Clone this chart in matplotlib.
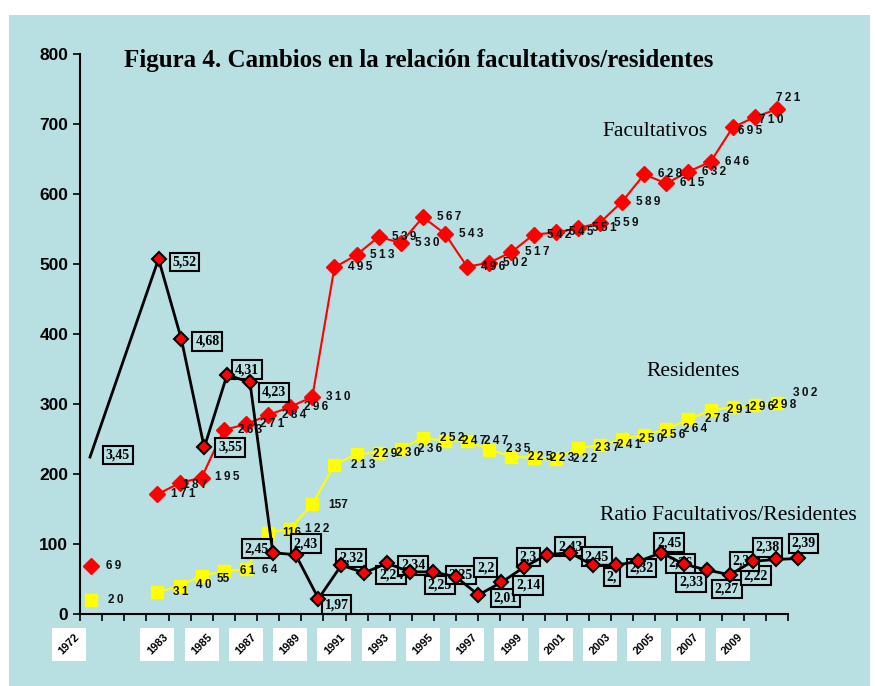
import numpy as np
import matplotlib.pyplot as plt
from matplotlib.patches import Rectangle

plt.rcParams['font.family'] = ['Liberation Sans', 'DejaVu Sans']

# categories (two empty slots between 1972 and 1983)
years = ['1972', '', ''] + [str(y) for y in range(1983, 2012)]
facultativos = [69, np.nan, np.nan, 171, 187, 195, 263, 271, 284, 296, 310, 495, 513, 539, 530, 567,
                543, 496, 502, 517, 542, 545, 551, 559, 589, 628, 615, 632, 646, 695, 710, 721]
residentes = [20, np.nan, np.nan, 31, 40, 55, 61, 64, 116, 122, 157, 213, 229, 230, 236, 252,
              247, 247, 235, 225, 223, 222, 237, 241, 250, 256, 264, 278, 291, 296, 298, 302]
ratio = [3.45, np.nan, np.nan, 5.52, 4.68, 3.55, 4.31, 4.23, 2.45, 2.43, 1.97, 2.32, 2.24, 2.34, 2.25, 2.25,
         2.2, 2.01, 2.14, 2.3, 2.43, 2.45, 2.32, 2.32, 2.36, 2.45, 2.33, 2.27, 2.22, 2.36, 2.38, 2.39]
ratio_text = ['3,45', '', '', '5,52', '4,68', '3,55', '4,31', '4,23', '2,45', '2,43', '1,97', '2,32',
              '2,24', '2,34', '2,25', '2,25', '2,2', '2,01', '2,14', '2,3', '2,43', '2,45', '2,', '2,32',
              '2,36', '2,45', '2,33', '2,27', '2,22', '2,36', '2,38', '2,39']
shown_years = [0] + list(range(3, 30, 2))

# label offsets in pixels (dx, dy downwards)
fac_off = {0: (23, 0), 4: (16, 2), 29: (17, 3), 30: (16, 3), 31: (11, -11)}
res_off = {0: (25, 0), 3: (23, 0), 4: (24, -1), 5: (22, 3), 6: (24, 0), 7: (24, 1), 8: (24, 0),
           9: (27, 0), 10: (26, 1), 31: (28, -10)}
ratio_off = {0: (28, -2), 3: (26, 3), 4: (26, 2), 5: (26, 0), 6: (20, -5), 7: (24, 10), 8: (-16, -4),
             9: (10, -11), 10: (18, 6), 11: (10, -7), 12: (27, 2), 13: (26, 2), 14: (30, 13),
             15: (28, 3), 16: (30, -9), 17: (27, 3), 18: (27, 3), 19: (4, -10), 20: (23, -8),
             21: (27, 4), 22: (19, 12), 23: (26, 3), 24: (42, 2), 25: (8, -10), 26: (7, 18),
             27: (20, 19), 28: (26, 1), 29: (-8, 0), 30: (-8, -12), 31: (5, -15)}
plain = {55, 116, 157}

bg = '#b8dfe2'
W, H = 875, 686
fig = plt.figure(figsize=(W / 100, H / 100), dpi=100)
fig.patch.set_facecolor('white')
fig.patches.append(Rectangle((9 / W, 0), 861 / W, 1 - 15 / H, transform=fig.transFigure,
                             facecolor=bg, edgecolor='none', zorder=-10))

rect = [80 / W, 72 / H, 708 / W, 560 / H]
ax = fig.add_axes(rect)
ax.set_facecolor('none')
x = np.arange(len(years))

ax.plot(x, facultativos, color='red', lw=1.5, marker='D', ms=8, mec='red', zorder=3)
ax.plot(x, residentes, color='#ffff00', lw=1.5, marker='s', ms=8.5, mec='#ffff00', zorder=3)

def spaced(v):
    s = str(v)
    return s if v in plain else '\u2009'.join(s)

for i, v in enumerate(facultativos):
    if np.isnan(v):
        continue
    dx, dy = fac_off.get(i, (26, 0))
    ax.annotate(spaced(int(v)), (i, v), xytext=(dx, -dy), textcoords='offset pixels',
                ha='center', va='center', fontsize=8.5, fontweight='bold', color='#111111', zorder=4)
for i, v in enumerate(residentes):
    if np.isnan(v):
        continue
    dx, dy = res_off.get(i, (29, 0))
    ax.annotate(spaced(int(v)), (i, v), xytext=(dx, -dy), textcoords='offset pixels',
                ha='center', va='center', fontsize=8.5, fontweight='bold', color='#111111', zorder=4)

ax.set_xlim(-0.5, len(years) - 0.5)
ax.set_ylim(0, 800)
ax.set_yticks(range(0, 801, 100))
ax.tick_params(axis='y', labelsize=12.5, length=5, width=1.2, direction='out')
for t in ax.get_yticklabels():
    t.set_fontweight('bold')
ax.set_xticks(np.arange(-0.5, len(years), 1))
ax.set_xticklabels([])
ax.tick_params(axis='x', length=5, width=1.2, direction='out')
for s in ['top', 'right']:
    ax.spines[s].set_visible(False)
for s in ['left', 'bottom']:
    ax.spines[s].set_linewidth(1.5)

# year label boxes
tr = ax.get_xaxis_transform()
for i in shown_years:
    p = i - 1 if i == 0 else i
    ax.add_patch(Rectangle((p - 0.77, -0.084), 1.54, 0.059, transform=tr, facecolor='white',
                           edgecolor='none', clip_on=False))
    ax.text(p, -0.0545, years[i], transform=tr, rotation=45, ha='center', va='center',
            fontsize=8, fontweight='bold', clip_on=False)

# ratio on its own scales
ax2 = fig.add_axes(rect, label='ratio', frameon=False)
ax2.set_facecolor('none')
ax2.set_xlim(-0.4376, 30.547)
ax2.set_ylim(1.81, 7.662)
ax2.axis('off')
rx = [i for i, v in enumerate(ratio) if not np.isnan(v)]
ry = [ratio[i] for i in rx]
ax2.plot(rx, ry, color='black', lw=2, marker='D', ms=7.5, mfc='red', mec='black', mew=1.5,
         markevery=list(range(1, len(rx))), zorder=5, clip_on=False)
for i in rx:
    dx, dy = ratio_off.get(i, (26, 0))
    ax2.annotate(ratio_text[i], (i, ratio[i]), xytext=(dx, -dy), textcoords='offset pixels',
                 ha='center', va='center', fontsize=10, fontweight='bold', family='Liberation Serif',
                 bbox=dict(boxstyle='square,pad=0.2', facecolor=bg, edgecolor='black', lw=1.5),
                 zorder=4, annotation_clip=False)

ax.text(25.5, 690, 'Facultativos', family='Liberation Serif', fontsize=15.5, ha='center', va='center')
ax.text(27.2, 347, 'Residentes', family='Liberation Serif', fontsize=15.5, ha='center', va='center')
ax.text(28.8, 140, 'Ratio Facultativos/Residentes', family='Liberation Serif', fontsize=15.5,
        ha='center', va='center')
fig.text(419 / W, 1 - 61 / H, 'Figura 4. Cambios en la relación facultativos/residentes',
         family='Liberation Serif', fontweight='bold', fontsize=18, ha='center', va='center')

plt.savefig('out.png', dpi=100)
